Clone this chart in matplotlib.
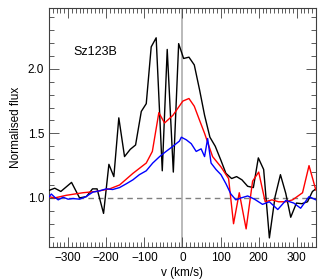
import matplotlib
matplotlib.use("Agg")
import matplotlib.pyplot as plt
from matplotlib.ticker import MultipleLocator

plt.rcParams['font.family'] = ['Liberation Sans', 'DejaVu Sans']

# Black spectrum
v_black = [-351, -335, -319, -291, -270, -252, -236, -224, -207, -193, -180, -167, -152,
           -137, -123, -108, -95, -82, -69, -53, -40, -24, -10, 3, 17, 31, 45, 58, 72,
           86, 101, 114, 129, 142, 156, 171, 186, 199, 213, 228, 243, 257, 271, 284,
           299, 313, 328, 341, 350]
f_black = [1.057, 1.075, 1.05, 1.12, 1.0, 1.01, 1.07, 1.07, 0.88, 1.26, 1.165, 1.62, 1.32,
           1.376, 1.41, 1.67, 1.73, 2.17, 2.24, 1.21, 2.15, 1.20, 2.195, 2.08, 2.09, 2.03,
           1.835, 1.64, 1.47, 1.40, 1.29, 1.19, 1.15, 1.165, 1.14, 1.09, 1.08, 1.31, 1.22,
           0.69, 1.01, 1.18, 1.035, 0.85, 0.96, 0.955, 0.97, 1.05, 1.07]

# Red spectrum
v_red = [-351, -335, -305, -261, -226, -191, -165, -130, -95, -79, -62, -47, -25, 1, 17,
         31, 45, 58, 79, 101, 121, 134, 149, 167, 184, 200, 217, 235, 252, 271, 289,
         315, 332, 350]
f_red = [1.01, 1.0, 1.02, 1.04, 1.05, 1.07, 1.10, 1.19, 1.27, 1.36, 1.66, 1.58, 1.64,
         1.75, 1.77, 1.71, 1.60, 1.50, 1.32, 1.24, 1.15, 0.80, 1.04, 0.76, 1.13, 1.20,
         0.97, 0.985, 0.97, 0.97, 0.985, 1.04, 1.25, 1.06]

# Blue spectrum
v_blue = [-351, -344, -335, -326, -313, -300, -287, -270, -253, -235, -217, -200, -183,
          -165, -147, -130, -113, -95, -78, -60, -43, -25, -8, -3, 10, 23, 36, 49, 58,
          66, 75, 88, 101, 114, 127, 140, 154, 171, 189, 210, 228, 250, 271, 292, 310,
          332, 350]
f_blue = [1.005, 1.03, 1.005, 0.985, 1.005, 0.99, 0.995, 0.99, 1.01, 1.045, 1.055, 1.07,
          1.065, 1.08, 1.11, 1.14, 1.18, 1.21, 1.27, 1.32, 1.36, 1.40, 1.44, 1.47, 1.45,
          1.42, 1.36, 1.38, 1.32, 1.46, 1.27, 1.22, 1.18, 1.11, 1.03, 0.985, 1.0, 1.015,
          0.99, 0.95, 0.97, 0.91, 0.98, 0.96, 0.92, 1.01, 0.985]

fig = plt.figure(figsize=(3.27, 2.80), dpi=100)
ax = fig.add_axes([0.150, 0.118, 0.816, 0.853])

ax.axvline(0, color='#b4b4b4', lw=1.3, zorder=1)
ax.axhline(1.0, color='#808080', lw=1.0, ls=(0, (4, 3)), zorder=1)

ax.plot(v_black, f_black, color='black', lw=1.0, zorder=3)
ax.plot(v_red, f_red, color='red', lw=1.0, zorder=4)
ax.plot(v_blue, f_blue, color='blue', lw=1.0, zorder=5)

ax.set_xlim(-350, 350)
ax.set_ylim(0.62, 2.47)
ax.xaxis.set_major_locator(MultipleLocator(100))
ax.xaxis.set_minor_locator(MultipleLocator(10))
ax.yaxis.set_major_locator(MultipleLocator(0.5))
ax.yaxis.set_minor_locator(MultipleLocator(0.1))
ax.tick_params(which='both', direction='in', top=True, right=True, labelsize=8.5,
               width=0.6, color='#404040')
ax.tick_params(which='major', length=7)
ax.tick_params(which='minor', length=3.5)
ax.xaxis.set_major_formatter(plt.FuncFormatter(lambda v, p: f"{int(v)}".replace('-', '\u2212')))
ax.yaxis.set_major_formatter(plt.FuncFormatter(lambda v, p: f"{v:.1f}"))
for s in ax.spines.values():
    s.set_linewidth(0.8)
    s.set_color('#404040')

ax.set_xlabel('v (km/s)', fontsize=8.5, labelpad=2)
ax.set_ylabel('Normalised flux', fontsize=8.5, labelpad=4)
ax.text(-285, 2.13, 'Sz123B', fontsize=9, va='center', ha='left')

fig.savefig('out.png', dpi=100)
